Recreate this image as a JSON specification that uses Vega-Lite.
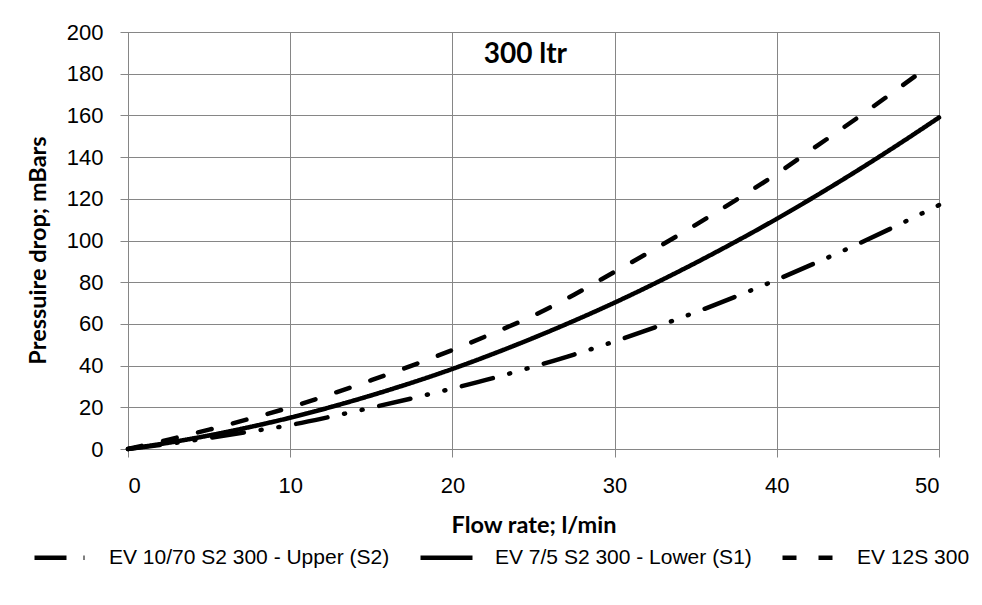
{
  "$schema": "https://vega.github.io/schema/vega-lite/v6.json",
  "width": 811,
  "height": 417,
  "autosize": "none",
  "padding": {"left": 128, "top": 32, "right": 43, "bottom": 156},
  "background": "white",
  "config": {
    "view": {"stroke": "#868686", "strokeWidth": 1},
    "axis": {
      "gridColor": "#868686", "gridOpacity": 1, "gridWidth": 1,
      "domainColor": "#868686", "tickColor": "#868686", "tickSize": 8,
      "labelFont": "Liberation Sans", "labelFontSize": 22, "labelColor": "black",
      "titleFont": "Lato", "titleFontSize": 23.5, "titleFontWeight": "bold", "titleColor": "black"
    }
  },
  "datasets": {
    "curves": [
      {"series": "EV 10/70 S2 300 - Upper (S2)", "flow": 0, "dp": 0},
      {"series": "EV 10/70 S2 300 - Upper (S2)", "flow": 2.5, "dp": 2.5},
      {"series": "EV 10/70 S2 300 - Upper (S2)", "flow": 5, "dp": 5.3},
      {"series": "EV 10/70 S2 300 - Upper (S2)", "flow": 7.5, "dp": 8.3},
      {"series": "EV 10/70 S2 300 - Upper (S2)", "flow": 10, "dp": 11.5},
      {"series": "EV 10/70 S2 300 - Upper (S2)", "flow": 12.5, "dp": 15.5},
      {"series": "EV 10/70 S2 300 - Upper (S2)", "flow": 15, "dp": 19.8},
      {"series": "EV 10/70 S2 300 - Upper (S2)", "flow": 17.5, "dp": 24.3},
      {"series": "EV 10/70 S2 300 - Upper (S2)", "flow": 20, "dp": 29},
      {"series": "EV 10/70 S2 300 - Upper (S2)", "flow": 22.5, "dp": 34},
      {"series": "EV 10/70 S2 300 - Upper (S2)", "flow": 25, "dp": 39.5},
      {"series": "EV 10/70 S2 300 - Upper (S2)", "flow": 27.5, "dp": 45.3},
      {"series": "EV 10/70 S2 300 - Upper (S2)", "flow": 30, "dp": 51.6},
      {"series": "EV 10/70 S2 300 - Upper (S2)", "flow": 32.5, "dp": 58.4},
      {"series": "EV 10/70 S2 300 - Upper (S2)", "flow": 35, "dp": 65.6},
      {"series": "EV 10/70 S2 300 - Upper (S2)", "flow": 37.5, "dp": 73.2},
      {"series": "EV 10/70 S2 300 - Upper (S2)", "flow": 40, "dp": 81.2},
      {"series": "EV 10/70 S2 300 - Upper (S2)", "flow": 42.5, "dp": 89.6},
      {"series": "EV 10/70 S2 300 - Upper (S2)", "flow": 45, "dp": 98.3},
      {"series": "EV 10/70 S2 300 - Upper (S2)", "flow": 47.5, "dp": 107.5},
      {"series": "EV 10/70 S2 300 - Upper (S2)", "flow": 50, "dp": 117},
      {"series": "EV 7/5 S2 300 - Lower (S1)", "flow": 0, "dp": 0},
      {"series": "EV 7/5 S2 300 - Lower (S1)", "flow": 2.5, "dp": 3.0},
      {"series": "EV 7/5 S2 300 - Lower (S1)", "flow": 5, "dp": 6.5},
      {"series": "EV 7/5 S2 300 - Lower (S1)", "flow": 7.5, "dp": 10.5},
      {"series": "EV 7/5 S2 300 - Lower (S1)", "flow": 10, "dp": 15},
      {"series": "EV 7/5 S2 300 - Lower (S1)", "flow": 12.5, "dp": 20.1},
      {"series": "EV 7/5 S2 300 - Lower (S1)", "flow": 15, "dp": 25.7},
      {"series": "EV 7/5 S2 300 - Lower (S1)", "flow": 17.5, "dp": 31.8},
      {"series": "EV 7/5 S2 300 - Lower (S1)", "flow": 20, "dp": 38.4},
      {"series": "EV 7/5 S2 300 - Lower (S1)", "flow": 22.5, "dp": 45.6},
      {"series": "EV 7/5 S2 300 - Lower (S1)", "flow": 25, "dp": 53.3},
      {"series": "EV 7/5 S2 300 - Lower (S1)", "flow": 27.5, "dp": 61.5},
      {"series": "EV 7/5 S2 300 - Lower (S1)", "flow": 30, "dp": 70.2},
      {"series": "EV 7/5 S2 300 - Lower (S1)", "flow": 32.5, "dp": 79.5},
      {"series": "EV 7/5 S2 300 - Lower (S1)", "flow": 35, "dp": 89.3},
      {"series": "EV 7/5 S2 300 - Lower (S1)", "flow": 37.5, "dp": 99.6},
      {"series": "EV 7/5 S2 300 - Lower (S1)", "flow": 40, "dp": 110.4},
      {"series": "EV 7/5 S2 300 - Lower (S1)", "flow": 42.5, "dp": 121.8},
      {"series": "EV 7/5 S2 300 - Lower (S1)", "flow": 45, "dp": 133.7},
      {"series": "EV 7/5 S2 300 - Lower (S1)", "flow": 47.5, "dp": 146.1},
      {"series": "EV 7/5 S2 300 - Lower (S1)", "flow": 50, "dp": 159},
      {"series": "EV 12S 300", "flow": 0, "dp": 0},
      {"series": "EV 12S 300", "flow": 2.5, "dp": 4.5},
      {"series": "EV 12S 300", "flow": 5, "dp": 9.3},
      {"series": "EV 12S 300", "flow": 7.5, "dp": 14.5},
      {"series": "EV 12S 300", "flow": 10, "dp": 20},
      {"series": "EV 12S 300", "flow": 12.5, "dp": 26.3},
      {"series": "EV 12S 300", "flow": 15, "dp": 33},
      {"series": "EV 12S 300", "flow": 17.5, "dp": 40},
      {"series": "EV 12S 300", "flow": 20, "dp": 47.5},
      {"series": "EV 12S 300", "flow": 22.5, "dp": 55.5},
      {"series": "EV 12S 300", "flow": 25, "dp": 64},
      {"series": "EV 12S 300", "flow": 27.5, "dp": 74},
      {"series": "EV 12S 300", "flow": 30, "dp": 85},
      {"series": "EV 12S 300", "flow": 32.5, "dp": 96},
      {"series": "EV 12S 300", "flow": 35, "dp": 107.5},
      {"series": "EV 12S 300", "flow": 37.5, "dp": 119.5},
      {"series": "EV 12S 300", "flow": 40, "dp": 132},
      {"series": "EV 12S 300", "flow": 42.5, "dp": 145.5},
      {"series": "EV 12S 300", "flow": 45, "dp": 159},
      {"series": "EV 12S 300", "flow": 47.5, "dp": 173},
      {"series": "EV 12S 300", "flow": 49, "dp": 181.5}
    ],
    "label": [{"flow": 24.5, "dp": 185.1, "text": "300 ltr"}]
  },
  "layer": [
    {
      "data": {"name": "curves"},
      "mark": {"type": "line", "color": "black", "strokeWidth": 4.5, "strokeCap": "round", "interpolate": "monotone"},
      "encoding": {
        "x": {
          "field": "flow", "type": "quantitative",
          "scale": {"domain": [0, 50], "nice": false},
          "axis": {"values": [0, 10, 20, 30, 40, 50], "title": "Flow rate; l/min", "labelPadding": 35, "labelBaseline": "alphabetic", "titleY": 83, "titleBaseline": "alphabetic"}
        },
        "y": {
          "field": "dp", "type": "quantitative",
          "scale": {"domain": [0, 200], "nice": false},
          "axis": {"values": [0, 20, 40, 60, 80, 100, 120, 140, 160, 180, 200], "title": "Pressuire drop; mBars", "labelPadding": 17, "titleX": -83, "titleY": 218, "titleBaseline": "alphabetic", "titleAlign": "center"}
        },
        "strokeDash": {
          "field": "series", "type": "nominal",
          "scale": {
            "domain": ["EV 10/70 S2 300 - Upper (S2)", "EV 7/5 S2 300 - Lower (S1)", "EV 12S 300"],
            "range": [[32, 17, 1, 17, 1, 17], [1, 0], [14, 22]]
          },
          "legend": {
            "title": null, "orient": "none", "direction": "horizontal",
            "legendX": -96, "legendY": 497,
            "symbolType": "stroke", "symbolSize": 2704, "symbolStrokeWidth": 4.5, "symbolStrokeColor": "black",
            "labelFont": "Liberation Sans", "labelFontSize": 21, "labelColor": "black",
            "columnPadding": 21, "labelOffset": 20, "labelLimit": 400
          }
        }
      }
    },
    {
      "data": {"name": "label"},
      "mark": {"type": "text", "font": "Lato", "fontWeight": "bold", "fontSize": 28, "color": "black", "baseline": "alphabetic"},
      "encoding": {
        "x": {"field": "flow", "type": "quantitative"},
        "y": {"field": "dp", "type": "quantitative"},
        "text": {"field": "text"}
      }
    }
  ]
}
